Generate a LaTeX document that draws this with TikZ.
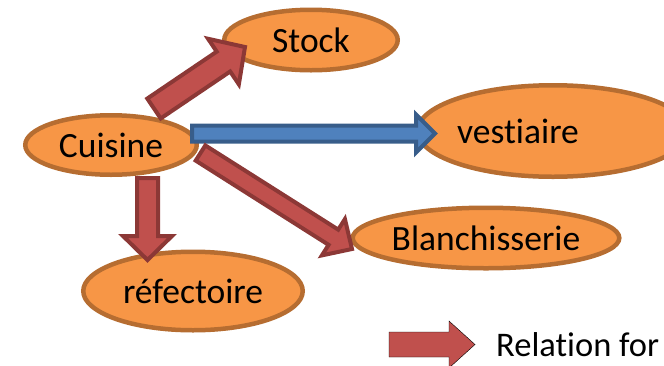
\documentclass[tikz,border=0pt]{standalone}
\usepackage{fontspec}
\setmainfont{Carlito}[Ligatures=NoCommon]
\usetikzlibrary{calc,shapes.geometric,positioning}
\definecolor{roomfill}{HTML}{F79646}
\definecolor{roomline}{HTML}{B66D31}
\definecolor{redfill}{HTML}{C0504D}
\definecolor{redline}{HTML}{8C3836}
\definecolor{bluefill}{HTML}{4F81BD}
\definecolor{blueline}{HTML}{385D8A}
\tikzset{
  room/.style={ellipse, draw=roomline, fill=roomfill, line width=4.5pt, inner sep=0pt,
    font=\fontsize{35.5}{40}\selectfont},
  redarrow/.style={draw=redline, fill=redfill, line width=4pt, line join=miter},
  bluearrow/.style={draw=blueline, fill=bluefill, line width=4pt, line join=miter},
  keyarrow/.style={fill=redfill}
}
% block arrow: [style]{tail}{tip}{shaft half width}{head half width}{head length}
\newcommand{\blockarrow}[6][redarrow]{%
  \coordinate (h) at ($(#3)!#6!(#2)$);
  \draw[#1] ($(#2)!#4!90:(#3)$) -- ($(h)!#4!90:(#3)$) -- ($(h)!#5!90:(#3)$) -- (#3)
    -- ($(h)!#5!-90:(#3)$) -- ($(h)!#4!-90:(#3)$) -- ($(#2)!#4!-90:(#3)$) -- cycle;}
\begin{document}
\begin{tikzpicture}[x=1pt,y=-1pt]
\useasboundingbox (0,0) rectangle (664,365);
\node[room, minimum width=171.5pt, minimum height=59.5pt](cuisine) at (111,145){Cuisine};
\node[room, minimum width=173.5pt, minimum height=60.5pt](stock) at (311,40){Stock};
\node[room, minimum width=245.5pt, minimum height=91.5pt](vestiaire) at (553,131){vestiaire\hspace*{70pt}};
\node[room, minimum width=264.5pt, minimum height=60.5pt](blanch) at (486,238){Blanchisserie};
\node[room, minimum width=219.5pt, minimum height=78.5pt](refect) at (193,291){réfectoire};
% arrow ends
\coordinate (c-st) at (154,108.5);
\coordinate (st) at (245,47);
\coordinate (c-ve) at (192,133.5);
\coordinate (ve) at (435,133.5);
\coordinate (c-bl) at (200.5,153);
\coordinate (bl) at (352,249);
\coordinate (c-re) at (147.5,178);
\coordinate (re) at (147.5,260);
\blockarrow{c-st}{st}{12pt}{27.5pt}{26pt}
\blockarrow[bluearrow]{c-ve}{ve}{8pt}{19pt}{19pt}
\blockarrow{c-bl}{bl}{9pt}{21.5pt}{22pt}
\blockarrow{c-re}{re}{10.5pt}{24.5pt}{24pt}
% legend
\coordinate (k-a) at (389,344.5);
\coordinate (k-b) at (475,344.5);
\blockarrow[keyarrow]{k-a}{k-b}{12.5pt}{23.5pt}{26pt}
\node[anchor=base west, inner sep=0pt, font=\fontsize{34.5}{40}\selectfont](key) at (496,356){Relation for};
\end{tikzpicture}
\end{document}
